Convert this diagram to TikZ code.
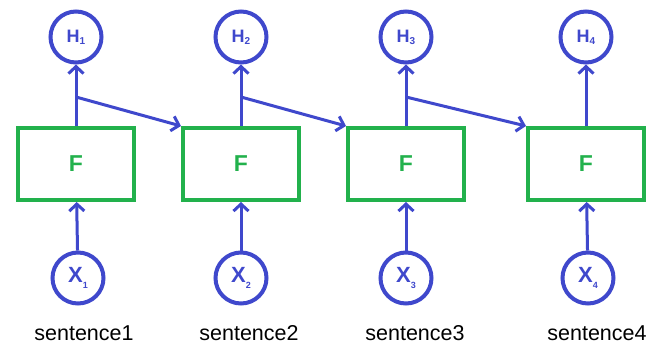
\documentclass[tikz,border=0pt]{standalone}
\usepackage{fontspec}
\setmainfont{Liberation Sans}
\usetikzlibrary{arrows.meta}
\definecolor{pblue}{HTML}{3F48CC}
\definecolor{pgreen}{HTML}{22B14C}
\begin{document}
\begin{tikzpicture}[x=1pt,y=-1pt,
  circ/.style={circle,draw=pblue,line width=4pt,minimum size=51pt,inner sep=0pt,text=pblue},
  fbox/.style={draw=pgreen,line width=4pt,minimum width=116pt,minimum height=72pt,inner sep=0pt,text=pgreen,font=\fontsize{23}{25}\selectfont\bfseries},
  conn/.style={draw=pblue,line width=3pt,-{Straight Barb[length=7pt,width=15pt,line width=3pt]}},
  lab/.style={font=\fontsize{21.5}{24}\selectfont,text=black,inner sep=0pt}]
\useasboundingbox (0,0) rectangle (654,349);
\foreach \i/\x/\xx/\lx in {1/76/78/84,2/241/241/249,3/406/406/415,4/586/588/597}{
  \node[fbox] (F\i) at (\x,164) {F};
  \node[circ,font=\fontsize{18}{20}\selectfont\bfseries] (H\i) at (\x,37) {H\raisebox{-2pt}{\fontsize{10}{11}\selectfont\i}};
  \node[circ,font=\fontsize{22}{24}\selectfont\bfseries] (X\i) at (\xx,278) {X\raisebox{-6pt}{\fontsize{9}{10}\selectfont\i}};
  \node[lab] (S\i) at (\lx,333) {sentence\i};
  \draw[conn] (X\i) -- (F\i);
  \draw[conn] (F\i) -- (H\i);
  \coordinate (B\i) at (\x,97);
}
\draw[conn] (B1) -- (F2.north west);
\draw[conn] (B2) -- (F3.north west);
\draw[conn] (B3) -- (F4.north west);
\end{tikzpicture}
\end{document}
